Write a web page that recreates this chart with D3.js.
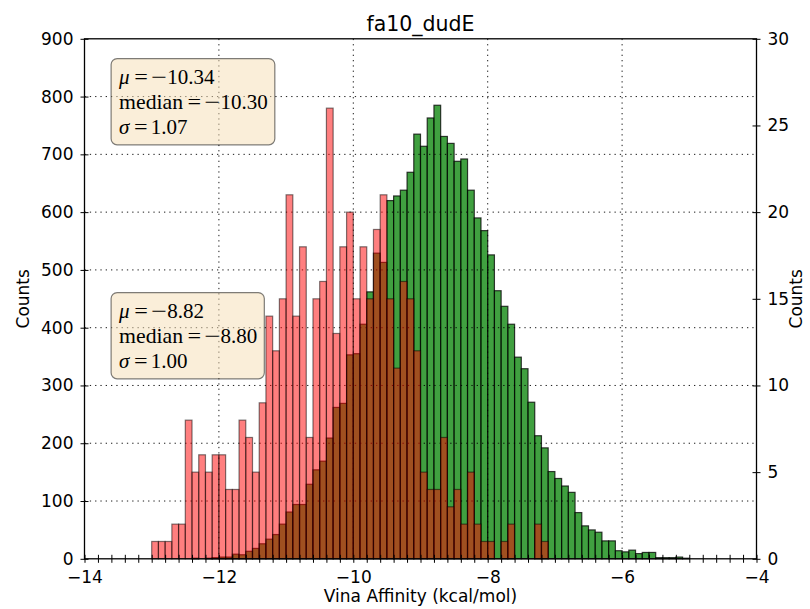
<!DOCTYPE html>
<html>
<head>
<meta charset="utf-8">
<script src="https://cdn.jsdelivr.net/npm/d3@7"></script>
<style>
  body { margin: 0; background: #fff; }
  text { font-family: "DejaVu Sans", sans-serif; }
</style>
</head>
<body>
<svg id="chart" width="810" height="609"></svg>
<script>
// Histogram bins: 100 bins of width 0.1 kcal/mol starting at -14.0
const binStart = -14.0;
const binWidth = 0.1;

// Decoy counts per bin (left axis)
const decoyCounts = [
  0, 0, 0, 0, 0, 0, 0, 0, 0, 0,
  0, 0, 0, 0, 0, 0, 1, 0, 1, 2,
  3, 3, 8, 7, 13, 18, 26, 34, 42, 60,
  81, 94, 94, 129, 154, 169, 209, 262, 269, 353,
  355, 406, 462, 529, 513, 620, 628, 638, 669, 735,
  714, 763, 785, 731, 719, 688, 692, 638, 590, 568,
  526, 464, 437, 406, 349, 329, 271, 213, 192, 151,
  139, 126, 115, 80, 57, 50, 46, 31, 31, 14,
  12, 15, 9, 11, 11, 2, 2, 2, 3, 1,
  0, 0, 0, 0, 0, 0, 0, 0, 0, 0
];

// Active counts per bin (right axis)
const activeCounts = [
  0, 0, 0, 0, 0, 0, 0, 0, 0, 0,
  1, 1, 1, 2, 2, 8, 5, 6, 5, 6,
  6, 4, 4, 8, 7, 5, 9, 14, 12, 15,
  21, 14, 18, 7, 15, 16, 26, 13, 18, 20,
  15, 18, 15, 19, 21, 15, 11, 16, 15, 12,
  5, 4, 4, 7, 3, 4, 2, 5, 2, 1,
  1, 0, 1, 2, 0, 0, 0, 2, 1, 0,
  0, 0, 0, 0, 0, 0, 0, 0, 0, 0,
  0, 0, 0, 0, 0, 0, 0, 0, 0, 0,
  0, 0, 0, 0, 0, 0, 0, 0, 0, 0
];

// Axis ticks
const xLabelTicks = [-14, -12, -10, -8, -6, -4];
const leftTicks = [0, 100, 200, 300, 400, 500, 600, 700, 800, 900];
const rightTicks = [0, 5, 10, 15, 20, 25, 30];

// Summary statistics shown in the two boxes
const statNames = ["μ", "median", "σ"];
const activeStats = ["−10.34", "−10.30", "1.07"];
const decoyStats = ["−8.82", "−8.80", "1.00"];

const title = "fa10_dudE";
const xTitle = "Vina Affinity (kcal/mol)";
const yTitle = "Counts";

// ---- layout ----
const L = 84.5, R = 756.5, T = 38.8, B = 558.8;
const svg = d3.select("#chart");

const x = d3.scaleLinear().domain([-14, -4]).range([L, R]);
const yLeft = d3.scaleLinear().domain([0, 900]).range([B, T]);
const yRight = d3.scaleLinear().domain([0, 30]).range([B, T]);

const bins = (counts) => counts.map((c, i) => ({
  x0: +(binStart + i * binWidth).toFixed(1),
  x1: +(binStart + (i + 1) * binWidth).toFixed(1),
  c
}));

const minus = (v) => String(v).replace("-", "\u2212");

// decoy bars (left axis)
svg.append("g").selectAll("rect")
  .data(bins(decoyCounts).filter(d => d.c > 0))
  .join("rect")
  .attr("x", d => x(d.x0))
  .attr("width", d => x(d.x1) - x(d.x0))
  .attr("y", d => yLeft(d.c))
  .attr("height", d => yLeft(0) - yLeft(d.c))
  .attr("fill", "#008000").attr("fill-opacity", 0.75)
  .attr("stroke", "#000").attr("stroke-opacity", 0.75)
  .attr("stroke-width", 1.2);

// grid
const grid = svg.append("g")
  .attr("stroke", "#000").attr("stroke-width", 0.9)
  .attr("stroke-dasharray", "1.3,4");
grid.selectAll("line.v")
  .data(xLabelTicks.filter(d => d > -14 && d < -4))
  .join("line").attr("class", "v")
  .attr("x1", d => x(d)).attr("x2", d => x(d))
  .attr("y1", T).attr("y2", B);
grid.selectAll("line.h")
  .data(leftTicks.filter(d => d > 0 && d < 900))
  .join("line").attr("class", "h")
  .attr("x1", L).attr("x2", R)
  .attr("y1", d => yLeft(d)).attr("y2", d => yLeft(d));

// active bars (right axis)
svg.append("g").selectAll("rect")
  .data(bins(activeCounts).filter(d => d.c > 0))
  .join("rect")
  .attr("x", d => x(d.x0))
  .attr("width", d => x(d.x1) - x(d.x0))
  .attr("y", d => yRight(d.c))
  .attr("height", d => yRight(0) - yRight(d.c))
  .attr("fill", "#ff0000").attr("fill-opacity", 0.5)
  .attr("stroke", "#000").attr("stroke-opacity", 0.5)
  .attr("stroke-width", 1.2);

// ---- axes ----
const xTickValues = d3.range(0, 51).map(i => +(-14 + i * 0.2).toFixed(1));
const xAxis = d3.axisBottom(x)
  .tickValues(xTickValues)
  .tickSize(4)
  .tickPadding(8)
  .tickFormat(d => xLabelTicks.includes(d) ? minus(d) : "");
const gx = svg.append("g").attr("transform", `translate(0,${B})`).call(xAxis);
gx.select(".domain").remove();
gx.selectAll(".tick line").attr("y1", -4).attr("y2", 4).attr("stroke-width", 1);
gx.selectAll(".tick text").attr("font-size", 17).attr("fill", "#000")
  .attr("font-family", "DejaVu Sans");

const gl = svg.append("g").attr("transform", `translate(${L},0)`)
  .call(d3.axisLeft(yLeft).tickValues(leftTicks).tickSize(4).tickPadding(7)
    .tickFormat(d3.format("d")));
gl.select(".domain").remove();
gl.selectAll(".tick line").attr("x1", -4).attr("x2", 4);
gl.selectAll(".tick text").attr("font-size", 17).attr("fill", "#000")
  .attr("font-family", "DejaVu Sans");

const gr = svg.append("g").attr("transform", `translate(${R},0)`)
  .call(d3.axisRight(yRight).tickValues(rightTicks).tickSize(4).tickPadding(7)
    .tickFormat(d3.format("d")));
gr.select(".domain").remove();
gr.selectAll(".tick line").attr("x1", -4).attr("x2", 4);
gr.selectAll(".tick text").attr("font-size", 17).attr("fill", "#000")
  .attr("font-family", "DejaVu Sans");

// frame
svg.append("rect")
  .attr("x", L).attr("y", T).attr("width", R - L).attr("height", B - T)
  .attr("fill", "none").attr("stroke", "#000").attr("stroke-width", 1.3);

// titles
svg.append("text").attr("x", (L + R) / 2).attr("y", 31)
  .attr("text-anchor", "middle").attr("font-size", 20.5).text(title);
svg.append("text").attr("x", (L + R) / 2).attr("y", 602)
  .attr("text-anchor", "middle").attr("font-size", 17).text(xTitle);
svg.append("text")
  .attr("transform", `translate(29,${(T + B) / 2}) rotate(-90)`)
  .attr("text-anchor", "middle").attr("font-size", 17).text(yTitle);
svg.append("text")
  .attr("transform", `translate(802,${(T + B) / 2}) rotate(-90)`)
  .attr("text-anchor", "middle").attr("font-size", 17).text(yTitle);

// ---- statistic boxes ----
const boxFont = "Liberation Serif, serif";
function statBox(fx, fy, values) {
  const x0 = L + fx * (R - L);
  const yTop = T + (1 - fy) * (B - T);
  const g = svg.append("g").attr("font-size", 21).attr("fill", "#000");
  const box = g.append("rect");
  let maxRight = x0;
  statNames.forEach((name, i) => {
    const base = yTop + 19.5 + i * 25;
    const italic = name.length === 1;
    const nm = g.append("text").attr("x", x0 + 1).attr("y", base)
      .style("font-family", boxFont)
      .attr("font-style", italic ? "italic" : "normal").text(name);
    let w = nm.node().getComputedTextLength();
    if (!italic) {
      w *= 1.035;
      nm.attr("textLength", w).attr("lengthAdjust", "spacingAndGlyphs");
    }
    let cx = x0 + 1 + w + 4.5;
    g.append("text").attr("x", cx).attr("y", base)
      .style("font-family", boxFont)
      .attr("textLength", 13.6).attr("lengthAdjust", "spacingAndGlyphs").text("=");
    cx += 13.6 + 3.2;
    let val = values[i];
    if (val.startsWith("\u2212")) {
      g.append("text").attr("x", cx).attr("y", base)
        .style("font-family", boxFont)
        .attr("textLength", 15.8).attr("lengthAdjust", "spacingAndGlyphs").text("\u2212");
      cx += 16.2;
      val = val.slice(1);
    }
    const vt = g.append("text").attr("x", cx).attr("y", base)
      .style("font-family", boxFont).text(val);
    cx += vt.node().getComputedTextLength();
    maxRight = Math.max(maxRight, cx);
  });
  box.attr("x", x0 - 7).attr("y", yTop - 6.2)
    .attr("width", maxRight + 7 - (x0 - 7))
    .attr("height", 6.2 + 20 + (statNames.length - 1) * 25 + 10)
    .attr("rx", 6).attr("ry", 6)
    .attr("fill", "#f5deb3").attr("fill-opacity", 0.5)
    .attr("stroke", "#000").attr("stroke-opacity", 0.5).attr("stroke-width", 1.2);
}

statBox(0.05, 0.95, activeStats);
statBox(0.05, 0.5, decoyStats);
</script>
</body>
</html>
